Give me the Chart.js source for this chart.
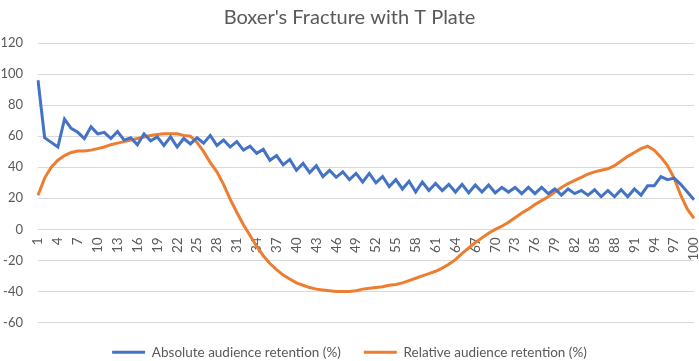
<!DOCTYPE html>
<html>
<head>
<meta charset="utf-8">
<script src="https://cdn.jsdelivr.net/npm/chart.js@4"></script>
<style>
  html, body { margin: 0; padding: 0; background: #fff; }
  #wrap { width: 699px; height: 361px; }
</style>
</head>
<body>
<div id="wrap"><canvas id="myChart" width="699" height="361"></canvas></div>
<script>
// x categories: seconds / percent of video, 1..100
const categories = [];
for (let i = 1; i <= 100; i++) categories.push(String(i));

const absoluteRetention = [
  96, 59, 56, 53, 71, 65, 62.5, 58.5, 66, 61.5,
  62.5, 58.5, 63, 57.5, 59, 54.5, 61.5, 57, 59.5, 54,
  59.5, 53, 58.5, 55, 59, 55.5, 60.5, 54, 57.5, 53,
  56.5, 51, 53.5, 49, 51.5, 44.5, 47.5, 41.5, 45, 38,
  42.5, 36.5, 41, 34, 38, 33.5, 37, 32, 36, 30.5,
  36, 30, 34, 27.5, 32, 26, 31, 24, 30.5, 25,
  29.5, 25, 29, 24, 29, 23.5, 28.5, 24, 28.5, 23.5,
  27, 24, 27, 23, 27, 23, 27, 23, 26, 22,
  26, 23, 25, 22, 25.5, 21, 25, 21, 25.5, 21,
  26, 22, 28, 28, 34, 32, 33, 29, 24, 19
];

const relativeRetention = [
  22, 33, 40, 44.5, 47.5, 49.5, 50.5, 50.5, 51, 52,
  53, 54.5, 55.5, 56.5, 57.5, 58.5, 59.5, 60.5, 61, 61.5,
  61.5, 61.5, 60.5, 60, 56, 50, 43, 37, 29, 19.5,
  11, 3, -4, -11, -17, -22, -26, -29.5, -32, -34.5,
  -36, -37.5, -38.5, -39, -39.5, -40, -40, -40, -39.5, -38.5,
  -38, -37.5, -37, -36, -35.5, -34.5, -33, -31.5, -30, -28.5,
  -27, -25, -22.5, -19.5, -15.5, -12, -8.5, -5.5, -2.5, 0,
  2, 4.5, 7.5, 10.5, 13, 16, 18.5, 21, 24, 27,
  29.5, 31.5, 33.5, 35.5, 37, 38, 39, 41, 44, 47,
  49.5, 52, 53.5, 51, 46.5, 41, 33, 22, 13, 7
];

const yTicks = { min: -60, max: 120, step: 20 };

const textColor = "#595959";
const gridColor = "#d9d9d9";
const fontFamily = "Lato, 'Open Sans', sans-serif";

const ctx = document.getElementById("myChart");
const myChart = new Chart(ctx, {
  type: "line",
  data: {
    labels: categories,
    datasets: [
      {
        label: "Absolute audience retention (%)",
        data: absoluteRetention,
        borderColor: "#4472C4",
        backgroundColor: "#4472C4",
        borderWidth: 3,
        pointRadius: 0,
        tension: 0,
      },
      {
        label: "Relative audience retention (%)",
        data: relativeRetention,
        borderColor: "#ED7D31",
        backgroundColor: "#ED7D31",
        borderWidth: 3,
        pointRadius: 0,
        tension: 0,
      },
    ],
  },
  options: {
    responsive: false,
    animation: false,
    layout: {
      // legend sits lower than the chart bottom in the original
      padding: { left: 0, right: 0, top: 0, bottom: -8 },
    },
    plugins: {
      title: {
        display: true,
        text: "Boxer's Fracture with T Plate",
        color: textColor,
        font: { family: fontFamily, size: 20, weight: "normal" },
        padding: { top: 6, bottom: 13 },
      },
      legend: {
        position: "bottom",
        labels: {
          color: textColor,
          font: { family: fontFamily, size: 13.5 },
          usePointStyle: true,
          pointStyle: "line",
          pointStyleWidth: 33,
          padding: 23,
        },
      },
      tooltip: { enabled: false },
    },
    scales: {
      x: {
        position: { y: 0 },
        offset: false,
        afterFit: function (scale) {
          scale.paddingLeft = 0;
          scale.paddingRight = 5;
        },
        grid: { display: false },
        border: { display: true, color: gridColor, width: 1 },
        ticks: {
          color: textColor,
          font: { family: fontFamily, size: 13.5 },
          autoSkip: false,
          minRotation: 90,
          maxRotation: 90,
          padding: 0,
          callback: function (val, index) {
            return index % 3 === 0 ? this.getLabelForValue(val) : "";
          },
        },
      },
      y: {
        min: yTicks.min,
        max: yTicks.max,
        afterFit: function (scale) {
          scale.width = 38;
        },
        grid: { color: gridColor, drawTicks: false },
        border: { display: false },
        ticks: {
          stepSize: yTicks.step,
          color: textColor,
          font: { family: fontFamily, size: 13 },
          padding: 15,
        },
      },
    },
  },
});
</script>
</body>
</html>
